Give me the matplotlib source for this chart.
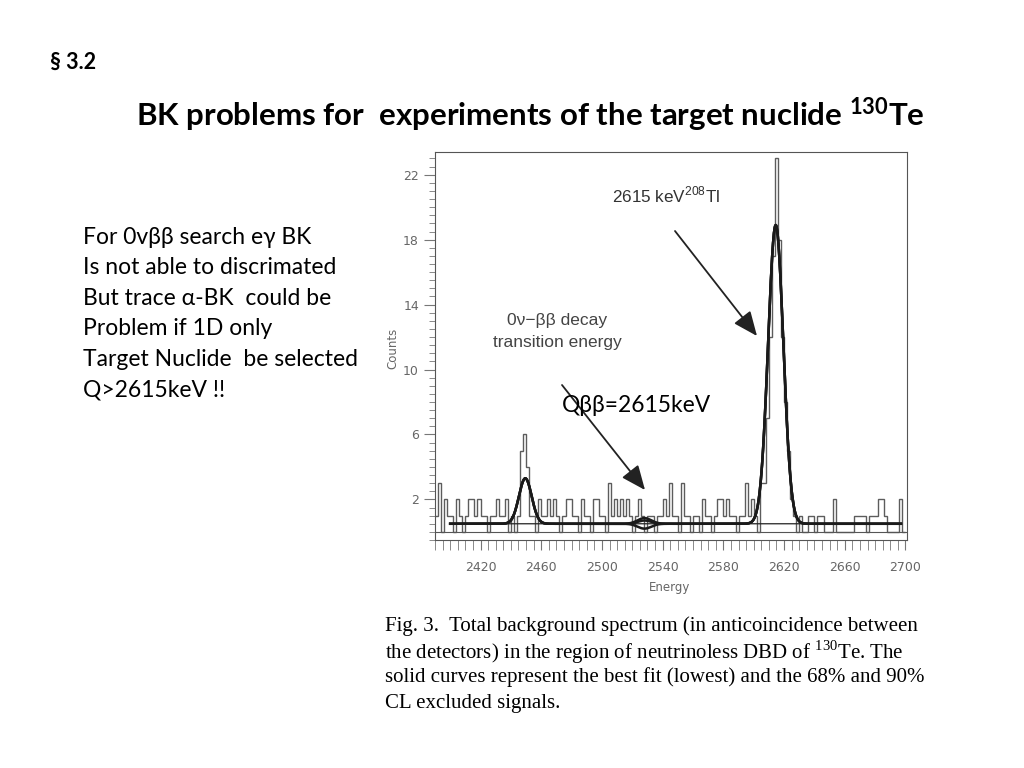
import numpy as np
import matplotlib
matplotlib.use("Agg")
import matplotlib.pyplot as plt
from matplotlib.ticker import FixedLocator, MultipleLocator

plt.rcParams["mathtext.fontset"] = "custom"
plt.rcParams["mathtext.rm"] = "Liberation Serif"
plt.rcParams["mathtext.bf"] = "Lato:bold"
plt.rcParams["mathtext.sf"] = "Liberation Sans"

W, H = 1024, 768

# ---- spectrum: 2 keV bins from 2390 keV -------------------------------------
bin_lo, bin_w = 2390, 2
counts = [
    1, 3, 0, 2, 1, 1, 0, 2, 1, 0,       # 2390-2408
    1, 2, 2, 1, 2, 1, 1, 0, 1, 1,       # 2410-2428
    2, 1, 1, 2, 0, 1, 0, 1, 5, 6,       # 2430-2448
    4, 1, 1, 0, 2, 1, 1, 2, 1, 2,       # 2450-2468
    1, 0, 1, 2, 2, 1, 1, 0, 2, 1,       # 2470-2488
    1, 0, 2, 2, 1, 1, 0, 3, 1, 2,       # 2490-2508
    1, 2, 1, 2, 1, 0, 1, 2, 1, 0,       # 2510-2528
    1, 1, 0, 1, 1, 2, 1, 3, 1, 1,       # 2530-2548
    0, 3, 1, 1, 0, 1, 1, 0, 2, 1,       # 2550-2568
    1, 0, 1, 2, 2, 1, 2, 1, 1, 0,       # 2570-2588
    1, 1, 3, 1, 2, 1, 0, 3, 3, 7,       # 2590-2608
    12, 17, 23, 18, 12, 8, 5, 2, 1, 0,  # 2610-2628
    1, 0, 0, 1, 1, 0, 1, 1, 0, 0,       # 2630-2648
    0, 2, 0, 0, 0, 0, 0, 0, 1, 1,       # 2650-2668
    1, 1, 0, 1, 1, 1, 2, 2, 1, 0,       # 2670-2688
    0, 0, 0, 2, 0,                      # 2690-2698
]

# ---- fit --------------------------------------------------------------------
fit_lo, fit_hi = 2400, 2697
bkg_level = 0.5
tl_mu, tl_sig, tl_amp = 2614.5, 5.0, 18.4      # 208Tl line
bi_mu, bi_sig, bi_amp = 2449.5, 4.2, 2.8       # 214Bi line
q_bb, q_sig = 2528, 4.5
signal_amps = [-0.3, 0.2, 0.35]                # best fit, 68 %, 90 % CL

x_ticks = [2420, 2460, 2500, 2540, 2580, 2620, 2660, 2700]
y_ticks = [2, 6, 10, 14, 18, 22]

notes = ["For 0v\u03b2\u03b2 search e\u03b3 BK",
         "Is not able to discrimated",
         "But trace \u03b1-BK  could be",
         "Problem if 1D only",
         "Target Nuclide  be selected",
         "Q>2615keV !!"]

caption = ["Fig. 3.  Total background spectrum (in anticoincidence between",
           "the detectors) in the region of neutrinoless DBD of $^{\\mathrm{130}}$Te. The",
           "solid curves represent the best fit (lowest) and the 68% and 90%",
           "CL excluded signals."]


def fx(px):
    return px / W


def fy(py):
    return 1 - py / H


def gauss(e, mu, sig, amp):
    return amp * np.exp(-0.5 * ((e - mu) / sig) ** 2)


fig = plt.figure(figsize=(W / 100, H / 100), dpi=100)
body = ["Lato", "DejaVu Sans"]

# ---- slide text --------------------------------------------------------------
fig.text(fx(50), fy(62), "\u00a7 3.2", fontsize=15.5, fontweight="bold",
         family=body, va="center")
fig.text(fx(530), fy(115), "BK problems for  experiments of the target nuclide $^{\\mathbf{130}}$Te",
         fontsize=22.5, fontweight="bold", family=body, ha="center", va="center")
for i, line in enumerate(notes):
    fig.text(fx(83), fy(237 + 30.6 * i), line, fontsize=16.5, family=body, va="center")
fig.text(fx(562), fy(405), "Q\u03b2\u03b2=2615keV", fontsize=16.4, family=body, va="center")

# ---- spectrum axes -----------------------------------------------------------
ax = fig.add_axes([fx(435), fy(540), fx(907) - fx(435), fy(152) - fy(540)])
edges = bin_lo + bin_w * np.arange(len(counts) + 1)
ax.stairs(counts, edges, baseline=None, color="#5c5c5c", lw=1.0)
ax.axhline(0, color="#555555", lw=0.8)

e = np.linspace(fit_lo, fit_hi, 2000)
base = bkg_level + gauss(e, tl_mu, tl_sig, tl_amp) + gauss(e, bi_mu, bi_sig, bi_amp)
ax.plot(e, np.full_like(e, bkg_level), color="#222222", lw=0.9)
for amp in signal_amps:
    ax.plot(e, base + gauss(e, q_bb, q_sig, amp), color="#1a1a1a", lw=1.8)

ax.set_xlim(2390, 2701)
ax.set_ylim(-0.5, 23.4)
ax.xaxis.set_major_locator(FixedLocator(x_ticks))
ax.xaxis.set_minor_locator(MultipleLocator(5))
ax.yaxis.set_major_locator(FixedLocator(y_ticks))
ax.yaxis.set_minor_locator(MultipleLocator(0.5))
ax.tick_params(axis="x", which="both", direction="out", length=7, color="#777777")
ax.tick_params(axis="y", which="major", direction="out", length=8, color="#777777")
ax.tick_params(axis="y", which="minor", direction="out", length=4, color="#777777")
ax.tick_params(labelsize=9, labelcolor="#666666")
ax.tick_params(axis="x", pad=8)
for sp in ax.spines.values():
    sp.set_color("#555555")
    sp.set_linewidth(0.8)

fig.text(fx(393), fy(348), "Counts", rotation=90, fontsize=8.5, color="#666666",
         ha="center", va="center")
fig.text(fx(670), fy(587), "Energy", fontsize=8.5, color="#666666", ha="center", va="center")

fig.text(fx(612), fy(195), "2615 keV$^{\\mathsf{208}}$Tl", fontsize=12.3, color="#333333",
         family="Liberation Sans", va="center")
fig.text(fx(557), fy(320), "0\u03bd\u2212\u03b2\u03b2 decay", fontsize=12.5, color="#444444",
         family="Liberation Sans", ha="center", va="center")
fig.text(fx(557), fy(342), "transition energy", fontsize=12.5, color="#444444",
         family="Liberation Sans", ha="center", va="center")

head = "-|>,head_length=0.75,head_width=0.32"
for (x0, y0, x1, y1) in [(675, 231, 757, 336), (562, 385, 645, 490)]:
    fig.add_artist(matplotlib.patches.FancyArrowPatch(
        (fx(x0), fy(y0)), (fx(x1), fy(y1)), transform=fig.transFigure,
        arrowstyle=head, mutation_scale=20, color="#222222", lw=1.3,
        shrinkA=0, shrinkB=0))

for i, line in enumerate(caption):
    fig.text(fx(385), fy(626 + 25.7 * i), line, fontsize=15,
             family="Liberation Serif", va="center")

fig.savefig("out.png", dpi=100)
